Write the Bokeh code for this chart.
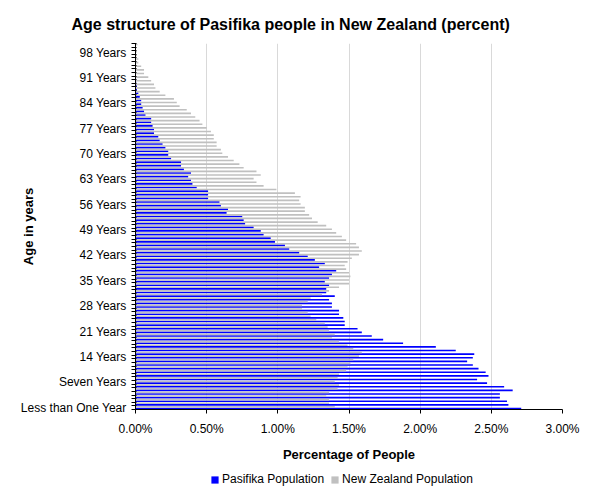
from bokeh.plotting import figure
from bokeh.layouts import column
from bokeh.models import (ColumnDataSource, Range1d, FixedTicker, PrintfTickFormatter,
                          Legend, LegendItem, Title)
from bokeh.transform import dodge
from bokeh.embed import file_html
from bokeh.resources import INLINE

# Single years of age, 0 to 100
ages = list(range(0, 101))

number_words = ["One", "Two", "Three", "Four", "Five", "Six", "Seven", "Eight", "Nine"]
age_labels = (["Less than One Year", "One Year"]
              + [f"{w} Years" for w in number_words[1:]]
              + [f"{a} Years" for a in range(10, 100)]
              + ["100 Years and Over"])

# Share of each population at each age (percent)
pasifika_pct = [
    2.71, 2.62, 2.61, 2.56, 2.56, 2.65, 2.59, 2.47, 2.40, 2.48,
    2.46, 2.41, 2.37, 2.33, 2.37, 2.38, 2.25, 2.11, 1.88, 1.74,
    1.66, 1.59, 1.56, 1.47, 1.47, 1.46, 1.43, 1.43, 1.38, 1.38,
    1.36, 1.40, 1.34, 1.34, 1.36, 1.33, 1.36, 1.38, 1.41, 1.29,
    1.33, 1.26, 1.21, 1.15, 1.08, 1.05, 0.98, 0.95, 0.90, 0.88,
    0.83, 0.77, 0.76, 0.75, 0.64, 0.65, 0.60, 0.59, 0.51, 0.51,
    0.51, 0.43, 0.40, 0.39, 0.37, 0.39, 0.34, 0.32, 0.32, 0.25,
    0.23, 0.23, 0.21, 0.19, 0.17, 0.16, 0.13, 0.13, 0.12, 0.11,
    0.11, 0.07, 0.06, 0.05, 0.04, 0.04, 0.03, 0.02, 0.01, 0.01,
    0.005, 0.004, 0.003, 0.002, 0.001, 0.001, 0.0, 0.0, 0.0, 0.0,
    0.0,
]
nz_pct = [
    1.40, 1.36, 1.36, 1.34, 1.36, 1.42, 1.43, 1.40, 1.42, 1.43,
    1.48, 1.49, 1.51, 1.53, 1.57, 1.59, 1.53, 1.49, 1.43, 1.38,
    1.40, 1.36, 1.35, 1.33, 1.27, 1.23, 1.21, 1.17, 1.17, 1.21,
    1.23, 1.31, 1.36, 1.43, 1.50, 1.50, 1.51, 1.50, 1.48, 1.47,
    1.49, 1.52, 1.57, 1.59, 1.57, 1.55, 1.48, 1.45, 1.41, 1.38,
    1.34, 1.28, 1.24, 1.22, 1.19, 1.19, 1.16, 1.15, 1.16, 1.12,
    0.99, 0.90, 0.85, 0.83, 0.88, 0.85, 0.76, 0.73, 0.69, 0.65,
    0.61, 0.60, 0.57, 0.57, 0.55, 0.55, 0.53, 0.50, 0.47, 0.45,
    0.42, 0.39, 0.36, 0.31, 0.29, 0.27, 0.21, 0.17, 0.14, 0.13,
    0.11, 0.09, 0.06, 0.06, 0.04, 0.02, 0.02, 0.01, 0.01, 0.005,
    0.014,
]

x_ticks = [0.0, 0.5, 1.0, 1.5, 2.0, 2.5, 3.0]
labelled_ages = list(range(0, 99, 7))

FONT = "Liberation Sans"
PAS_COLOR = "#0000FF"
NZ_COLOR = "#C0C0C0"

source = ColumnDataSource(dict(age=ages, pasifika=pasifika_pct, nz=nz_pct))

p = figure(width=592, height=466, output_backend="svg", toolbar_location=None,
           x_range=Range1d(0, 3.0), y_range=Range1d(-0.5, 100.5),
           min_border_left=135, min_border_right=30,
           min_border_top=43, min_border_bottom=57)
p.outline_line_color = None
p.background_fill_color = "white"
p.border_fill_color = "white"

bar_h = 0.45
p.hbar(y=dodge("age", -0.225, range=p.y_range), left=0, right="pasifika",
       height=bar_h, source=source, fill_color=PAS_COLOR, line_color=None)
p.hbar(y=dodge("age", 0.225, range=p.y_range), left=0, right="nz",
       height=bar_h, source=source, fill_color=NZ_COLOR, line_color=None)

# Title
p.title = Title(text="Age structure of Pasifika people in New Zealand (percent)",
                align="left", offset=-64, text_font=FONT, text_font_size="16px",
                text_font_style="bold", text_color="black", standoff=22)

# Horizontal axis
xa = p.xaxis[0]
xa.ticker = FixedTicker(ticks=x_ticks)
xa.formatter = PrintfTickFormatter(format="%.2f%%")
xa.major_label_text_font = FONT
xa.major_label_text_font_size = "12px"
xa.major_label_text_color = "black"
xa.major_tick_out = 4
xa.major_tick_in = 0
xa.major_tick_line_color = "black"
xa.minor_tick_line_color = None
xa.axis_line_color = "black"
xa.major_label_standoff = 8
xa.axis_label = "Percentage of People"
xa.axis_label_text_font = FONT
xa.axis_label_text_font_size = "13px"
xa.axis_label_text_font_style = "bold"
xa.axis_label_text_color = "black"
xa.axis_label_standoff = 8

# Vertical axis: one tick per category boundary, label every seventh age
ya = p.yaxis[0]
ya.ticker = FixedTicker(ticks=labelled_ages,
                        minor_ticks=[a - 0.5 for a in ages] + [ages[-1] + 0.5])
ya.major_label_overrides = {a: age_labels[a] for a in labelled_ages}
ya.major_label_text_font = FONT
ya.major_label_text_font_size = "12px"
ya.major_label_text_color = "black"
ya.major_tick_line_color = None
ya.major_tick_out = 4
ya.major_tick_in = 0
ya.minor_tick_line_color = "black"
ya.minor_tick_out = 4
ya.minor_tick_in = 1
ya.axis_line_color = "black"
ya.major_label_standoff = 5
ya.axis_label = "Age in years"
ya.axis_label_text_font = FONT
ya.axis_label_text_font_size = "13px"
ya.axis_label_text_font_style = "bold"
ya.axis_label_text_color = "black"
ya.axis_label_standoff = -18

p.xgrid.grid_line_color = "#d9d9d9"
p.xgrid.ticker = FixedTicker(ticks=x_ticks)
p.ygrid.visible = False

# Legend strip under the chart: swatches use the same bar styles
key = figure(width=592, height=22, output_backend="svg", toolbar_location=None,
             x_range=Range1d(0, 1), y_range=Range1d(0, 1),
             x_axis_location=None, y_axis_location=None,
             min_border_left=0, min_border_right=0, min_border_top=0, min_border_bottom=0)
key.outline_line_color = None
key.grid.visible = False
key.border_fill_color = "white"
swatch = ColumnDataSource(dict(age=[0], pasifika=[0], nz=[0]))
k_pas = key.hbar(y="age", left=0, right="pasifika", height=0.5, source=swatch,
                 fill_color=PAS_COLOR, line_color=None)
k_nz = key.hbar(y="age", left=0, right="nz", height=0.5, source=swatch,
                fill_color=NZ_COLOR, line_color=None)
legend = Legend(items=[LegendItem(label="Pasifika Population", renderers=[k_pas]),
                       LegendItem(label="New Zealand Population", renderers=[k_nz])],
                orientation="horizontal", location=(75, 2),
                glyph_width=9, glyph_height=9, label_standoff=3, spacing=6,
                label_text_font=FONT, label_text_font_size="12px",
                label_text_color="black", border_line_color=None,
                background_fill_alpha=0, padding=0, margin=0, label_height=12)
key.add_layout(legend)

layout = column(p, key, spacing=0)

open("out.html", "w").write(file_html(layout, INLINE))
